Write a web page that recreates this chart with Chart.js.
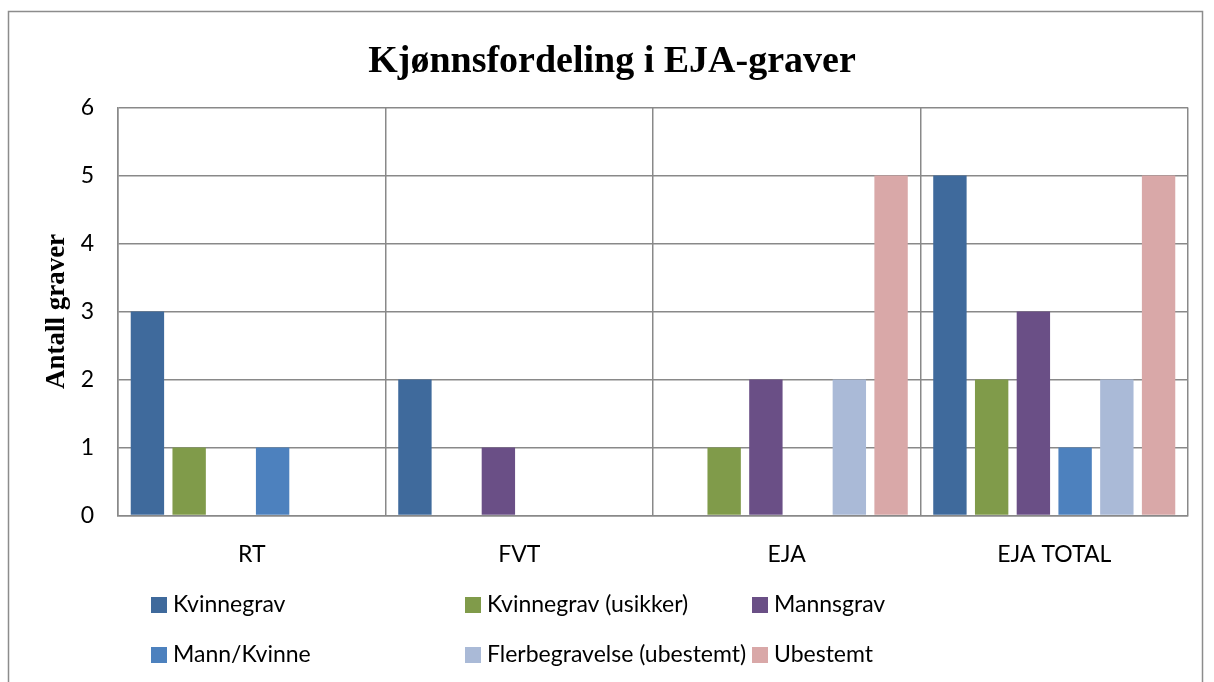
<!DOCTYPE html>
<html>
<head>
<meta charset="utf-8">
<script src="https://cdn.jsdelivr.net/npm/chart.js@4"></script>
<style>
  html, body { margin: 0; padding: 0; background: #fff; }
  #wrap { width: 1214px; height: 682px; position: relative; }
</style>
</head>
<body>
<div id="wrap"><canvas id="graveChart"></canvas></div>
<script>
const categories = ['RT', 'FVT', 'EJA', 'EJA TOTAL'];
const seriesNames = ['Kvinnegrav', 'Kvinnegrav (usikker)', 'Mannsgrav', 'Mann/Kvinne', 'Flerbegravelse (ubestemt)', 'Ubestemt'];
const kvinnegrav = [3, 2, 0, 5];
const kvinnegravUsikker = [1, 0, 1, 2];
const mannsgrav = [0, 1, 2, 3];
const mannKvinne = [1, 0, 0, 1];
const flerbegravelse = [0, 0, 2, 2];
const ubestemt = [0, 0, 5, 5];
const yTicks = [0, 1, 2, 3, 4, 5, 6];

const colors = ['#3F6A9C', '#809B4A', '#6A4F86', '#4D81BE', '#AABAD7', '#D9A8A8'];
const seriesValues = [kvinnegrav, kvinnegravUsikker, mannsgrav, mannKvinne, flerbegravelse, ubestemt];

const gridGray = '#898989';
const sansFont = 'Lato, "Open Sans", sans-serif';
const serifFont = '"Liberation Serif", "DejaVu Serif", serif';

// frame around the whole chart object
const framePlugin = {
    id: 'frame',
    beforeDraw(chart) {
        const ctx = chart.ctx;
        ctx.save();
        ctx.strokeStyle = '#8c8c8c';
        ctx.lineWidth = 1.5;
        ctx.strokeRect(8.5, 11.5, 1194, 700);
        ctx.restore();
    }
};

// centre the title on the frame rather than on the padded layout box
const titleCenterPlugin = {
    id: 'titleCenter',
    afterLayout(chart) {
        if (chart.titleBlock) {
            chart.titleBlock.left = 10;
            chart.titleBlock.right = 1214;
        }
    }
};

// legend laid out in three fixed columns, two rows
const gridLegendPlugin = {
    id: 'gridLegend',
    afterDraw(chart) {
        const ctx = chart.ctx;
        const colX = [151, 465, 752];
        const rowY = [605, 655];
        ctx.save();
        ctx.font = '23px ' + sansFont;
        ctx.textBaseline = 'middle';
        ctx.textAlign = 'left';
        chart.data.datasets.forEach((ds, i) => {
            const x = colX[i % 3];
            const y = rowY[Math.floor(i / 3)];
            ctx.fillStyle = ds.backgroundColor;
            ctx.fillRect(x, y - 8, 16, 16);
            ctx.fillStyle = '#000';
            ctx.fillText(ds.label, x + 22, y);
        });
        ctx.restore();
    }
};

new Chart(document.getElementById('graveChart').getContext('2d'), {
    type: 'bar',
    data: {
        labels: categories,
        datasets: seriesNames.map((name, i) => ({
            label: name,
            data: seriesValues[i],
            backgroundColor: colors[i],
            categoryPercentage: 0.936,
            barPercentage: 0.8
        }))
    },
    options: {
        responsive: true,
        maintainAspectRatio: false,
        animation: false,
        layout: {
            padding: { left: 0, right: 26, top: 0, bottom: 89 }
        },
        plugins: {
            legend: { display: false },
            tooltip: { enabled: false },
            title: {
                display: true,
                text: 'Kjønnsfordeling i EJA-graver',
                color: '#000',
                font: { family: serifFont, size: 38, weight: 'bold' },
                padding: { top: 39, bottom: 23 }
            }
        },
        scales: {
            x: {
                grid: { color: gridGray, lineWidth: 1.5, drawTicks: false, offset: true },
                border: { color: gridGray, width: 1.5 },
                ticks: {
                    color: '#000',
                    font: { family: sansFont, size: 23 },
                    padding: 25
                }
            },
            y: {
                min: 0,
                max: 6,
                afterFit(scale) { scale.width = 118; },
                afterBuildTicks(scale) { scale.ticks = yTicks.map(v => ({ value: v })); },
                grid: { color: gridGray, lineWidth: 1.5, drawTicks: false },
                border: { color: gridGray, width: 1.5 },
                ticks: {
                    color: '#000',
                    font: { family: sansFont, size: 23 },
                    padding: 24
                },
                title: {
                    display: true,
                    text: 'Antall graver',
                    color: '#000',
                    font: { family: serifFont, size: 27, weight: 'bold' },
                    padding: { top: 41, bottom: 0 }
                }
            }
        }
    },
    plugins: [framePlugin, titleCenterPlugin, gridLegendPlugin]
});
</script>
</body>
</html>
